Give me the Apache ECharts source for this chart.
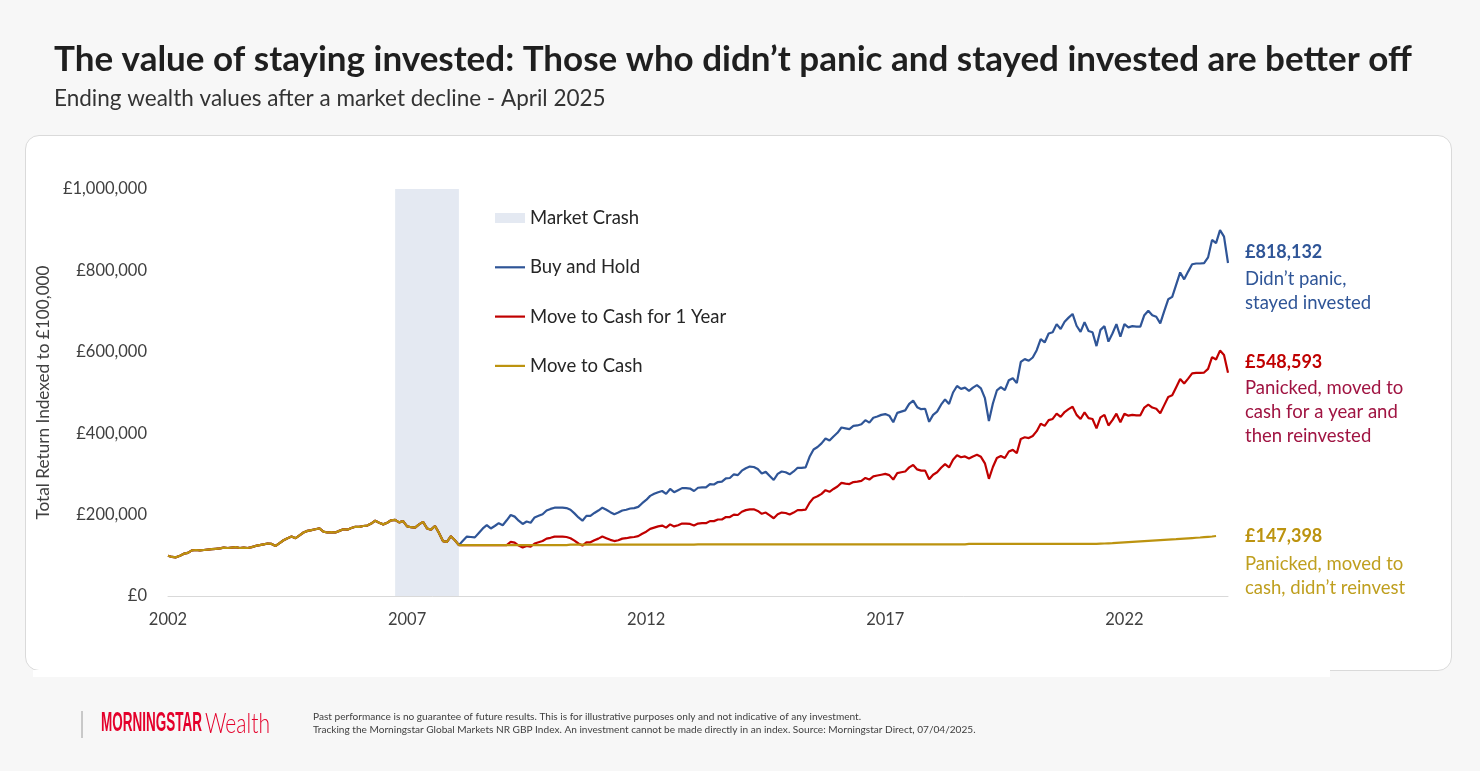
<!DOCTYPE html>
<html>
<head>
<meta charset="utf-8">
<title>The value of staying invested</title>
<script src="https://cdn.jsdelivr.net/npm/echarts@6/dist/echarts.min.js"></script>
<style>
  html, body { margin: 0; padding: 0; background: #f7f7f7; }
  #card { position: absolute; left: 25px; top: 135px; width: 1425px; height: 534px; background: #fff; border: 1px solid #dadada; border-radius: 14px; }
  #strip { position: absolute; left: 33px; top: 670px; width: 1297px; height: 7px; background: #fff; }
  #chart { position: absolute; left: 0; top: 0; width: 1480px; height: 771px; }
</style>
</head>
<body>
<div id="card"></div>
<div id="strip"></div>
<div id="chart"></div>
<script>
// values in £ thousands, monthly from Jan 2002
const history = [
  99, 96, 95, 99, 104, 106, 112, 113, 112, 113,
  114, 115, 116, 117, 119, 118, 119, 120, 118, 119,
  118, 120, 123, 125, 127, 129, 128, 123, 130, 137,
  142, 146, 142, 149, 156, 160, 162, 164, 166, 158,
  156, 157, 156, 160, 164, 163, 167, 170, 170, 172,
  173, 178, 185, 180, 176, 180, 186, 187, 181, 184,
  171, 169, 168, 176, 182, 166, 163, 172, 155, 135,
  133, 147, 137, 125
]

const buyHoldAfter = [
  136, 146, 145, 144, 155, 166, 174, 166, 172, 179,
  174, 186, 199, 195, 185, 177, 183, 180, 193, 197,
  201, 210, 214, 217, 217, 217, 216, 212, 203, 193,
  185, 197, 197, 204, 210, 217, 212, 206, 201, 205,
  210, 212, 215, 216, 219, 228, 236, 246, 251, 255,
  258, 251, 263, 255, 260, 265, 265, 264, 258, 266,
  267, 267, 275, 274, 280, 281, 289, 290, 299, 297,
  308, 314, 318, 317, 312, 301, 305, 295, 285, 300,
  306, 304, 299, 306, 315, 315, 316, 342, 360, 366,
  375, 387, 382, 392, 401, 414, 412, 410, 418, 419,
  422, 432, 426, 438, 441, 445, 447, 443, 427, 450,
  453, 456, 472, 480, 464, 459, 460, 428, 445, 453,
  470, 483, 472, 500, 516, 509, 512, 504, 512, 518,
  510, 486, 430, 473, 505, 513, 506, 530, 535, 523,
  575, 582, 578, 586, 604, 631, 623, 645, 648, 668,
  656, 674, 684, 693, 664, 649, 673, 651, 648, 614,
  654, 663, 625, 645, 668, 637, 668, 660, 663, 662,
  662, 690, 701, 690, 686, 670, 700, 729, 735, 765,
  795, 778, 797, 815, 817, 817, 818, 832, 875, 867,
  899, 883, 818.132
]

const cashYearAfter = [
  125, 125, 125, 125, 125, 125, 125, 125, 125, 125, 125,
  125, 133, 131, 124, 119, 123, 121, 129, 132, 135,
  141, 143, 146, 146, 146, 145, 142, 136, 129, 124,
  132, 132, 137, 141, 146, 142, 138, 135, 137, 141,
  142, 144, 145, 147, 153, 158, 165, 168, 171, 173,
  168, 176, 171, 174, 178, 178, 177, 173, 178, 179,
  179, 184, 184, 188, 188, 194, 194, 200, 199, 207,
  211, 213, 213, 209, 202, 205, 198, 191, 201, 205,
  204, 200, 205, 211, 211, 212, 229, 241, 245, 251,
  260, 256, 263, 269, 278, 276, 275, 280, 281, 283,
  290, 286, 294, 296, 298, 300, 297, 286, 302, 304,
  306, 316, 322, 311, 308, 308, 287, 298, 304, 315,
  324, 316, 335, 346, 341, 343, 338, 343, 347, 342,
  326, 288, 317, 339, 344, 339, 355, 359, 351, 386,
  390, 388, 393, 405, 423, 418, 432, 435, 448, 440,
  452, 459, 465, 445, 435, 451, 437, 435, 412, 439,
  445, 419, 432, 448, 427, 448, 443, 445, 444, 444,
  463, 470, 463, 460, 449, 469, 489, 493, 513, 533,
  522, 534, 547, 548, 548, 549, 558, 587, 581, 603,
  592, 548.593
]

const cashAfter = [
  125, 125, 125, 125, 125, 125, 125, 125, 125, 125,
  125, 125, 125, 125, 125, 125, 125, 125, 125, 125,
  125, 125, 125, 125, 125, 125, 125, 126, 126, 126,
  126, 126, 126, 126, 126, 126, 126, 126, 126, 126,
  126, 126, 126, 126, 126, 126, 126, 126, 126, 126,
  126, 126, 126, 126, 126, 126, 126, 126, 126, 127,
  127, 127, 127, 127, 127, 127, 127, 127, 127, 127,
  127, 127, 127, 127, 127, 127, 127, 127, 127, 127,
  127, 127, 127, 127, 127, 127, 127, 127, 127, 127,
  127, 127, 127, 127, 127, 127, 127, 127, 127, 127,
  127, 127, 127, 127, 127, 127, 127, 127, 127, 127,
  127, 127, 127, 127, 127, 127, 127, 127, 127, 127,
  127, 127, 127, 127, 127, 127, 127, 128, 128, 128,
  128, 128, 128, 128, 128, 128, 128, 128, 128, 128,
  128, 128, 128, 128, 128, 128, 128, 128, 128, 128,
  128, 128, 128, 128, 128, 128, 128, 128, 128, 128,
  128.5, 129, 129.5, 130, 130.6, 131.2, 131.8, 132.4, 133, 133.6,
  134.2, 134.8, 135.4, 136, 136.6, 137.2, 137.8, 138.4, 139, 139.6,
  140.3, 141, 141.7, 142.4, 143.1, 143.8, 144.6, 145.4, 146.2, 147.398
]

const yearTicks = ['2002', '2007', '2012', '2017', '2022']
const crashStart = 57
const crashEnd = 73

const startYear = 2002
const months = []
for (let i = 0; i < history.length + buyHoldAfter.length; i++) {
  const y = startYear + Math.floor(i / 12)
  const m = (i % 12) + 1
  months.push(`${y}-${m < 10 ? '0' + m : m}`)
}

const blue = '#2f5597'
const red = '#c00000'
const gold = '#bc930f'
const crashColour = '#e4e9f2'
const font = 'Lato'
const lineIcon = 'path://M0,0H30V2.2H0Z'

const chart = echarts.init(document.getElementById('chart'))

chart.setOption({
  backgroundColor: 'transparent',
  animation: false,
  textStyle: { fontFamily: font },
  grid: { left: 168, right: 252, top: 189, bottom: 175 },
  legend: {
    orient: 'vertical',
    left: 490,
    top: 203,
    itemWidth: 30,
    itemHeight: 10,
    itemGap: 29.3,
    selectedMode: false,
    textStyle: { fontSize: 18.5, color: '#262626', fontFamily: font, lineHeight: 20 },
    data: [
      { name: 'Market Crash', icon: 'rect' },
      { name: 'Buy and Hold', icon: lineIcon },
      { name: 'Move to Cash for 1 Year', icon: lineIcon },
      { name: 'Move to Cash', icon: lineIcon },
    ],
  },
  xAxis: {
    type: 'category',
    data: months,
    boundaryGap: false,
    axisLine: { lineStyle: { color: '#d9d9d9', width: 1 } },
    axisTick: { show: false },
    axisLabel: {
      interval: (index) => index % 60 === 0,
      formatter: (value, index) => yearTicks[index / 60] || value.slice(0, 4),
      color: '#404040',
      fontSize: 16.5,
      fontFamily: font,
      margin: 15,
    },
    splitLine: { show: false },
  },
  yAxis: {
    type: 'value',
    min: 0,
    max: 1000,
    interval: 200,
    name: 'Total Return Indexed to £100,000',
    nameLocation: 'middle',
    nameGap: 108,
    nameTextStyle: { fontSize: 17.2, color: '#404040', fontFamily: font },
    axisLine: { show: false },
    axisTick: { show: false },
    splitLine: { show: false },
    axisLabel: {
      color: '#404040',
      fontSize: 16.5,
      fontFamily: font,
      margin: 21,
      formatter: (v) => '£' + (v * 1000).toLocaleString('en-GB'),
    },
  },
  series: [
    {
      name: 'Market Crash',
      type: 'line',
      data: [],
      color: crashColour,
      markArea: {
        silent: true,
        itemStyle: { color: crashColour },
        data: [[{ xAxis: months[crashStart] }, { xAxis: months[crashEnd] }]],
      },
    },
    {
      name: 'Buy and Hold',
      type: 'line',
      data: history.concat(buyHoldAfter),
      color: blue,
      symbol: 'none',
      lineStyle: { width: 2.2 },
    },
    {
      name: 'Move to Cash for 1 Year',
      type: 'line',
      data: history.concat(cashYearAfter),
      color: red,
      symbol: 'none',
      lineStyle: { width: 2.2 },
    },
    {
      name: 'Move to Cash',
      type: 'line',
      data: history.concat(cashAfter),
      color: gold,
      symbol: 'none',
      lineStyle: { width: 2.2 },
    },
  ],
  graphic: [
    {
      type: 'text', x: 54, y: 60,
      style: {
        text: 'The value of staying invested: Those who didn\u2019t panic and stayed invested are better off',
        font: `bold 35px ${font}`, fill: '#1f1f1f', verticalAlign: 'middle',
      },
    },
    {
      type: 'text', x: 54, y: 99,
      style: {
        text: 'Ending wealth values after a market decline - April 2025',
        font: `22.5px ${font}`, fill: '#333333', verticalAlign: 'middle',
      },
    },
    // end-of-line annotations
    { type: 'text', x: 1245, y: 252, style: { text: '£818,132', font: `bold 18px ${font}`, fill: blue, verticalAlign: 'middle' } },
    { type: 'text', x: 1245, y: 267, style: { text: 'Didn\u2019t panic,\nstayed invested', font: `18.5px ${font}`, lineHeight: 24, fill: blue, verticalAlign: 'top' } },
    { type: 'text', x: 1245, y: 362, style: { text: '£548,593', font: `bold 18px ${font}`, fill: red, verticalAlign: 'middle' } },
    { type: 'text', x: 1245, y: 376, style: { text: 'Panicked, moved to\ncash for a year and\nthen reinvested', font: `18.5px ${font}`, lineHeight: 24, fill: '#a01442', verticalAlign: 'top' } },
    { type: 'text', x: 1245, y: 536, style: { text: '£147,398', font: `bold 18px ${font}`, fill: gold, verticalAlign: 'middle' } },
    { type: 'text', x: 1245, y: 552, style: { text: 'Panicked, moved to\ncash, didn\u2019t reinvest', font: `18.5px ${font}`, lineHeight: 24, fill: '#bf9f1f', verticalAlign: 'top' } },
    // footer
    { type: 'line', shape: { x1: 82, y1: 711, x2: 82, y2: 738 }, style: { stroke: '#9a9a9a', lineWidth: 1 } },
    {
      type: 'text', x: 101, y: 724, scaleX: 0.5,
      style: { text: 'MORNINGSTAR', font: 'bold 27px "Liberation Sans Narrow", "Liberation Sans"', fill: '#e4002b', verticalAlign: 'middle' },
    },
    {
      type: 'text', x: 205, y: 724, scaleX: 0.78,
      style: { text: 'Wealth', font: `300 27px ${font}`, fill: '#e4002b', verticalAlign: 'middle' },
    },
    {
      type: 'text', x: 313, y: 717,
      style: { text: 'Past performance is no guarantee of future results. This is for illustrative purposes only and not indicative of any investment.', font: `10.1px ${font}`, fill: '#404040', verticalAlign: 'middle' },
    },
    {
      type: 'text', x: 313, y: 730,
      style: { text: 'Tracking the Morningstar Global Markets NR GBP Index. An investment cannot be made directly in an index. Source: Morningstar Direct, 07/04/2025.', font: `10.1px ${font}`, fill: '#404040', verticalAlign: 'middle' },
    },
  ],
})
</script>
</body>
</html>
